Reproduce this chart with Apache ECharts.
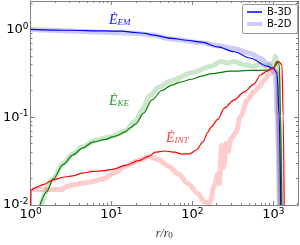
<!DOCTYPE html>
<html><head><meta charset="utf-8">
<script src="https://cdn.jsdelivr.net/npm/echarts@6/dist/echarts.min.js"></script>
<style>html,body{margin:0;padding:0;background:#fff}#c{width:300px;height:245px}</style>
</head><body><div id="c"></div>
<script>
// r/r0 , value pairs
const emB3D = [[1,1.0],[3.05,0.975],[7.77,0.958],[13.6,0.951],[19.8,0.92],[26.2,0.897],[31.6,0.866],[55.5,0.79],[84.5,0.751],[129,0.714],[206,0.63],[328,0.555],[525,0.468],[838,0.38],[1009,0.357],[1110,0.32],[1183,0.103],[1234,0.01]];
const emB2D = [[1,1.0],[2.53,0.963],[7.77,0.927],[19.6,0.904],[31.6,0.859],[55.5,0.776],[129,0.702],[206,0.65],[328,0.603],[525,0.531],[694,0.468],[838,0.412],[972,0.363],[1057,0.297],[1119,0.103],[1183,0.01]];
const keB3D = [[1.31,0.01],[1.58,0.0141],[1.91,0.0198],[2.53,0.029],[3.35,0.0373],[4.43,0.0448],[5.86,0.052],[8.52,0.0559],[10.3,0.0595],[11.8,0.0618],[14.9,0.0684],[17.1,0.0757],[19.8,0.0832],[25.0,0.111],[31.6,0.157],[41.9,0.201],[55.5,0.232],[73.4,0.253],[97.2,0.27],[129,0.293],[171,0.313],[299,0.334],[525,0.34],[838,0.343],[1009,0.37],[1110,0.431],[1183,0.395],[1228,0.103],[1270,0.01]];
const keB2D = [[1.36,0.01],[1.91,0.0203],[2.53,0.0297],[3.35,0.0382],[4.43,0.0462],[6.38,0.0545],[8.45,0.0585],[10.3,0.0605],[14.9,0.0702],[19.8,0.0904],[23.9,0.1215],[30.1,0.178],[38.2,0.219],[55.5,0.26],[97.2,0.32],[171,0.38],[226,0.431],[272,0.412],[328,0.431],[434,0.395],[575,0.38],[694,0.395],[838,0.38],[1009,0.412],[1057,0.489],[1135,0.382],[1160,0.103],[1218,0.01]];
const intB3D = [[1.01,0.01],[1.014,0.0148],[1.19,0.016],[1.44,0.0171],[1.91,0.0193],[2.53,0.0207],[3.35,0.0215],[4.43,0.0231],[5.86,0.0241],[7.77,0.0244],[10.3,0.0255],[14.9,0.0282],[21.8,0.032],[28.8,0.0357],[34.7,0.0399],[45.9,0.0412],[60.8,0.0399],[73.4,0.038],[92.7,0.0382],[112,0.0423],[135,0.0522],[155,0.0672],[171,0.0777],[206,0.0944],[248,0.127],[328,0.157],[434,0.193],[575,0.238],[694,0.302],[838,0.334],[1009,0.363],[1161,0.431],[1277,0.395],[1324,0.103],[1361,0.01]];
const intB2D = [[1.04,0.015],[1.44,0.015],[2.53,0.015],[2.65,0.016],[3.35,0.017],[5.35,0.0182],[7.77,0.0198],[11.3,0.0235],[14.9,0.0277],[21.8,0.032],[28.8,0.0357],[38.2,0.0328],[50.6,0.0277],[67,0.0225],[88.6,0.0175],[117,0.0135],[141,0.0108],[163,0.0104],[187,0.0167],[206,0.0225],[215,0.0175],[230,0.048],[244,0.0266],[260,0.0501],[277,0.0405],[299,0.0569],[344,0.0672],[396,0.103],[478,0.157],[575,0.193],[662,0.219],[762,0.26],[877,0.307],[972,0.334],[1057,0.334],[1135,0.313],[1160,0.103],[1234,0.01]];
const xMinorTicks = [2,3,4,5,6,7,8,9,20,30,40,50,60,70,80,90,200,300,400,500,600,700,800,900,2000];
const yMinorTicks = [0.02,0.03,0.04,0.05,0.06,0.07,0.08,0.09,0.2,0.3,0.4,0.5,0.6,0.7,0.8,0.9,2];
const seriesNames = ['B-3D','B-2D'];
const annotations = ['EM','KE','INT'];

const X_MIN = 1, X_MAX = 2018, Y_MIN = 0.01, Y_MAX = 2.1;
const frame = '#808080';
const powLabel = v => { const e = Math.round(Math.log10(v)); return '{b|10}{s|' + (e < 0 ? '-' + (-e) : e) + '}'; };
const labRich = { b:{fontSize:13,fontFamily:'DejaVu Sans',color:'#000'}, s:{fontSize:9,fontFamily:'DejaVu Sans',color:'#000',verticalAlign:'top',padding:[0,0,6,0]} };

function xa(pos, minor, showLabel, showLine){
  return {type:'log', logBase:10, min:X_MIN, max:X_MAX, position:pos, gridIndex:0,
    axisLine:{show:showLine, lineStyle:{color:frame,width:1}},
    axisTick:minor?{show:true,inside:true,length:2,customValues:xMinorTicks,lineStyle:{color:frame}}:{show:true,inside:true,length:4,lineStyle:{color:frame}},
    axisLabel:{show:showLabel, showMaxLabel:false, margin:2, formatter:powLabel, rich:labRich},
    splitLine:{show:false}, minorTick:{show:false}};
}
function ya(pos, minor, showLabel, showLine){
  return {type:'log', logBase:10, min:Y_MIN, max:Y_MAX, position:pos, gridIndex:0,
    axisLine:{show:showLine, lineStyle:{color:frame,width:1}},
    axisTick:minor?{show:true,inside:true,length:2,customValues:yMinorTicks,lineStyle:{color:frame}}:{show:true,inside:true,length:4,lineStyle:{color:frame}},
    axisLabel:{show:showLabel, showMaxLabel:false, margin:2, formatter:powLabel, rich:labRich},
    splitLine:{show:false}, minorTick:{show:false}};
}
const xAxes = [xa('bottom',false,true,true), xa('bottom',true,false,false), xa('top',false,false,true), xa('top',true,false,false)];
xAxes[0].name = '{i|r/r}{sub|0}';
xAxes[0].nameLocation = 'middle';
xAxes[0].nameGap = 22;
xAxes[0].nameTextStyle = {rich:{i:{fontSize:12,fontStyle:'italic',fontFamily:'Liberation Serif',color:'#333'},sub:{fontSize:9,fontFamily:'Liberation Serif',color:'#333',verticalAlign:'bottom',padding:[4,0,0,0]}}};
const yAxes = [ya('left',false,true,true), ya('left',true,false,false), ya('right',false,false,true), ya('right',true,false,false)];

function line(name, data, color, width, z){
  return {name:name, type:'line', xAxisIndex:0, yAxisIndex:0, data:data, showSymbol:false, symbol:'none', z:z,
    smooth:0.3, smoothMonotone:'x',
    lineStyle:{color:color,width:width}, itemStyle:{color:color}, animation:false, clip:true};
}
const lightBlue = 'rgba(0,0,255,0.2)', lightGreen='rgba(0,128,0,0.2)', lightRed='rgba(255,0,0,0.2)';
const series = [
  line(seriesNames[1], emB2D, lightBlue, 5, 1),
  line('B-2D ke', keB2D, lightGreen, 5, 1),
  line('B-2D int', intB2D, lightRed, 5, 1),
  line(seriesNames[0], emB3D, '#0000ff', 1.2, 3),
  line('B-3D ke', keB3D, '#008000', 1.2, 3),
  line('B-3D int', intB3D, '#ff0000', 1.2, 3)
];

function ann(sub, color, left, top){
  return {type:'text', left:left, top:top, silent:true, z:10, style:{text:'{e|Ė}{s|' + sub + '}', rich:{
    e:{fontSize:14, fontStyle:'italic', fontFamily:'Liberation Serif', fill:color, color:color},
    s:{fontSize:9, fontStyle:'italic', fontFamily:'Liberation Serif', fill:color, color:color, verticalAlign:'bottom', padding:[5,0,0,0]}}}};
}
const legendText = {fontSize:10, fontFamily:'DejaVu Sans', color:'#000'};

const chart = echarts.init(document.getElementById('c'), null, {renderer:'canvas'});
chart.setOption({
  animation:false,
  backgroundColor:'#fff',
  grid:{left:27, right:2, top:1, bottom:33, containLabel:false},
  xAxis:xAxes, yAxis:yAxes,
  legend:[
    {data:[{name:seriesNames[0], icon:'rect'}], left:247, top:7, itemWidth:15, itemHeight:1.5, padding:0, textStyle:legendText, selectedMode:false, z:20},
    {data:[{name:seriesNames[1], icon:'rect'}], left:247, top:19, itemWidth:15, itemHeight:4, padding:0, textStyle:legendText, selectedMode:false, z:20}
  ],
  series:series,
  graphic:[
    {type:'rect', left:242, top:4, z:15, shape:{width:55, height:29, r:1.5}, style:{fill:'#fff', stroke:'#999', lineWidth:1}},
    ann(annotations[0],'#2020ff',109,13), ann(annotations[1],'#2a9a2a',109,94), ann(annotations[2],'#ff4040',166,131)]
});
</script></body></html>
